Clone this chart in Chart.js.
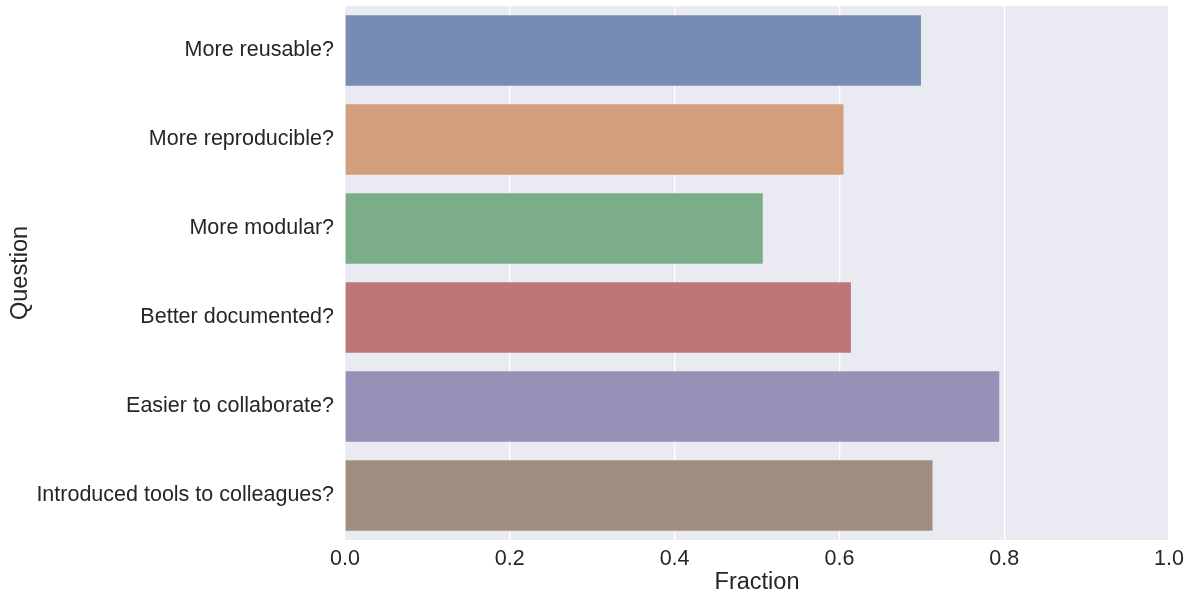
<!DOCTYPE html>
<html>
<head>
<meta charset="utf-8">
<script src="https://cdn.jsdelivr.net/npm/chart.js@4"></script>
<style>
  body { margin: 0; background: #ffffff; }
  #wrap { width: 1191px; height: 593px; }
</style>
</head>
<body>
<div id="wrap"><canvas id="barChart"></canvas></div>
<script>
const questions = [
  'More reusable?',
  'More reproducible?',
  'More modular?',
  'Better documented?',
  'Easier to collaborate?',
  'Introduced tools to colleagues?'
];
const fractions = [0.699, 0.605, 0.507, 0.614, 0.794, 0.713];
const barColors = ['#778cb4', '#d29e7c', '#7bae88', '#be7779', '#9990b8', '#9f8e80'];
const xTicks = [0, 0.2, 0.4, 0.6, 0.8, 1.0];

// seaborn-like grey panel behind the bars
const panelBg = {
  id: 'panelBg',
  beforeDraw(chart) {
    const { ctx, chartArea: a } = chart;
    ctx.save();
    ctx.fillStyle = '#eaeaf2';
    ctx.fillRect(a.left, a.top, a.right - a.left, a.bottom - a.top);
    ctx.restore();
  }
};

Chart.defaults.font.family = '"Liberation Sans", Arial, sans-serif';
Chart.defaults.color = '#262626';

const ctx = document.getElementById('barChart').getContext('2d');
new Chart(ctx, {
  type: 'bar',
  data: {
    labels: questions,
    datasets: [{
      data: fractions,
      backgroundColor: barColors,
      borderWidth: 0,
      categoryPercentage: 1.0,
      barPercentage: 0.79
    }]
  },
  options: {
    indexAxis: 'y',
    responsive: true,
    maintainAspectRatio: false,
    animation: false,
    layout: { padding: { top: 6, right: 22, left: 0, bottom: 0 } },
    plugins: {
      legend: { display: false },
      tooltip: { enabled: false }
    },
    scales: {
      x: {
        min: 0,
        max: 1.0,
        afterBuildTicks(axis) {
          axis.ticks = xTicks.map(v => ({ value: v }));
        },
        afterFit(axis) {
          axis.height = 53;
          axis.paddingLeft = 0;
          axis.paddingRight = 0;
        },
        grid: { color: '#ffffff', lineWidth: 1.3, drawTicks: false },
        border: { display: false },
        ticks: {
          padding: 6,
          font: { size: 21.5 },
          callback: v => Number(v).toFixed(1)
        },
        title: {
          display: true,
          text: 'Fraction',
          font: { size: 23.5 },
          padding: { top: 0, bottom: -4 }
        }
      },
      y: {
        afterFit(axis) {
          axis.width = 345;
          axis.paddingTop = 0;
          axis.paddingBottom = 0;
        },
        grid: { display: false, drawTicks: false },
        border: { display: false },
        ticks: { padding: 11, font: { size: 21.5 } },
        title: {
          display: true,
          text: 'Question',
          font: { size: 23.5 },
          padding: { top: 6, bottom: 0 }
        }
      }
    }
  },
  plugins: [panelBg]
});
</script>
</body>
</html>
